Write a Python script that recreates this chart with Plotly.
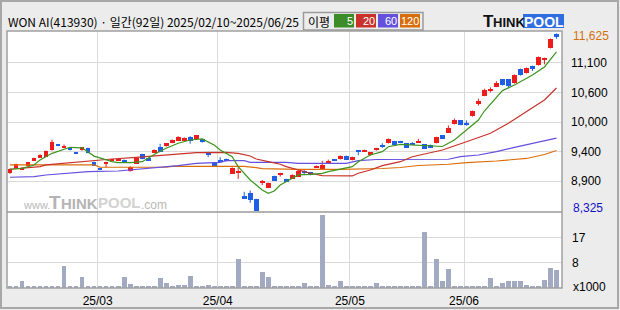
import plotly.graph_objects as go

# ---------------- data ----------------
opens = [9025,9120,9090,9160,9255,9320,9330,9445,9555,9505,
         9480,9405,9445,9490,9230,9115,9190,9255,9255,9270,
         9070,9200,9380,9300,9405,9510,9520,9585,9630,9630,
         9705,9665,9655,9395,9205,9275,9290,9015,9030,8595,
         8655,8540,8835,8750,8970,8995,8915,8920,8955,9055,
         9040,9130,9105,9220,9270,9280,9345,9265,9435,9430,
         9355,9445,9550,9580,9620,9620,9580,9590,9590,9560,
         9550,9580,9725,9775,9935,10005,9965,10080,10305,10460,
         10560,10630,10770,10770,10695,10965,10885,11020,11030,11125,
         11350,11605]
closes = [9095,9195,9125,9225,9305,9355,9440,9600,9530,9535,
          9470,9395,9505,9395,9160,9100,9230,9270,9265,9220,
          9145,9305,9285,9265,9460,9425,9575,9645,9705,9685,
          9630,9725,9595,9380,9150,9245,9245,9125,9045,8545,
          8520,8325,8875,8845,8885,9005,8865,8995,9055,9030,
          8985,9160,9175,9245,9255,9350,9270,9325,9420,9455,
          9410,9490,9520,9665,9545,9590,9495,9560,9625,9480,
          9500,9695,9665,9860,10015,9920,9930,10185,10365,10565,
          10575,10705,10660,10640,10855,10845,10985,10965,11190,11170,
          11515,11575]
highs = [9110,9200,9135,9230,9310,9375,9445,9645,9560,9555,
         9500,9410,9510,9495,9235,9120,9235,9275,9270,9275,
         9150,9310,9385,9305,9465,9570,9580,9650,9710,9690,
         9710,9730,9660,9420,9210,9320,9295,9130,9130,8675,
         8700,8545,8895,8850,8975,9030,8920,9000,9095,9080,
         9045,9165,9250,9275,9275,9355,9350,9330,9450,9460,
         9415,9495,9580,9670,9625,9625,9585,9600,9660,9565,
         9555,9700,9730,9910,10040,10010,10005,10190,10410,10595,
         10620,10735,10775,10775,10860,10970,10990,11025,11195,11175,
         11530,11625]
lows = [9010,9110,9080,9150,9250,9315,9325,9440,9525,9490,
        9445,9390,9440,9390,9155,9095,9130,9250,9250,9215,
        9050,9195,9280,9255,9400,9420,9515,9580,9625,9625,
        9570,9660,9590,9320,9145,9220,9240,9010,8915,8540,
        8470,8325,8800,8745,8880,8960,8860,8915,8950,9005,
        8980,9125,9080,9215,9250,9275,9265,9260,9355,9425,
        9350,9440,9495,9575,9540,9585,9490,9550,9585,9475,
        9495,9575,9660,9770,9930,9915,9905,10075,10280,10455,
        10525,10625,10655,10600,10690,10840,10880,10925,11025,11050,
        11345,11525]
volume_k = [0.8,0.5,2.5,0.8,0.8,0.8,0.8,0.8,0.5,7.5,
            0.8,0.5,3.8,0.8,0.4,0.4,0.4,0.4,0.4,3.8,
            1.5,0.4,0.4,0.4,0.8,3.5,1.8,0.4,1.1,1.1,
            4.1,0.4,0.4,1.1,0.8,0.4,0.8,0.8,9.8,0.8,
            0.4,0.4,5.5,3.8,0.8,0.8,0.4,0.4,0.4,1.8,
            0.4,0.4,24.6,1.1,0.4,2.2,0.4,0.4,0.4,0.4,
            0.4,1.6,0.4,0.8,0.4,0.4,0.4,0.4,0.8,18.7,
            0.4,9.6,2.2,6.3,0.8,0.4,0.4,0.4,0.4,0.8,
            3.5,0.8,1.6,2.5,2.2,2.2,1.1,0.4,0.8,2.8,
            6.8,6.1]

ma5_idx = [0,2,4,5,7,9,10,12,13,14,17,18,20,22,23,24,26,28,30,32,34,35,37,38,40,42,43,44,45,47,
           48,50,52,53,55,57,58,60,62,63,65,68,72,73,74,76,78,79,81,82,84,85,87,89,91]
ma5_val = [9095,9113,9175,9268,9392,9473,9504,9495,9420,9340,9236,9217,9217,9236,9299,9370,9486,9579,9640,9659,
           9547,9454,9329,9143,8895,8709,8648,8690,8800,8927,8989,9001,9020,9050,9095,9143,9236,9361,9422,9515,
           9560,9538,9519,9579,9640,9826,10013,10180,10440,10560,10664,10730,10850,11000,11280]
ma20_idx = [0,2,5,6,9,11,14,17,21,25,28,31,36,38,40,41,43,45,46,48,50,52,57,58,60,62,65,67,72,76,80,83,86,89,91]
ma20_val = [9095,9113,9143,9175,9206,9225,9268,9286,9318,9348,9374,9404,9411,9392,9342,9286,9236,9188,9143,9082,
            9020,8975,8970,9020,9082,9162,9236,9329,9454,9608,9765,9951,10167,10385,10608]
ma60_idx = [0,4,6,10,13,18,20,23,28,31,35,36,39,40,46,48,56,58,61,73,75,78,81,84,87,91]
ma60_val = [8946,8957,8988,9020,9050,9063,9081,9106,9162,9206,9225,9255,9255,9225,9225,9206,9206,9255,9277,9281,
            9329,9361,9422,9504,9579,9674]
ma120_idx = [0,14,15,26,27,39,41,42,48,55,62,65,68,73,76,81,86,89,91]
ma120_val = [9175,9175,9132,9132,9150,9147,9124,9106,9091,9091,9109,9128,9165,9188,9217,9249,9296,9370,9445]

month_labels = ['25/03', '25/04', '25/05', '25/06']
month_first_idx = [15, 35, 57, 76]
price_tick_labels = ['8,900', '9,400', '10,000', '10,600', '11,100']
vol_tick_labels = ['8', '17']
title_text = 'WON AI(413930) · 일간(92일) 2025/02/10~2025/06/25'
ma_names = ['5', '20', '60', '120']

# ---------------- styling ----------------
W, H = 620, 310
RED = '#ee1c1c'
BLUE = '#1e5fe6'
MA_COLORS = ['#3c961e', '#c83228', '#6450e0', '#dc6e0a']
LEGEND_COLORS = ['#3c8c28', '#c8322a', '#6450dc', '#d86e0a']
GRID = '#dadada'
BORDER = '#a0a0a0'
NUM_FONT = 'Liberation Sans'
KR_FONT = 'Noto Sans CJK KR'

def px(x):
    return x / W

def py(y):
    return 1 - y / H

n = len(opens)
idx = list(range(n))
pmax, pmin = max(highs), min(lows)
# gridlines divide [min, max] into six equal bands
price_ticks = [pmin + k * (pmax - pmin) / 6 for k in range(1, 6)]
vol_top = 25.5
vol_ticks = [vol_top / 3, 2 * vol_top / 3]

up = [c >= o for o, c in zip(opens, closes)]
min_body = 20
body_base, body_h = [], []
for o, c in zip(opens, closes):
    h = abs(c - o)
    if h < min_body:
        body_base.append(min(o, c) - (min_body - h) / 2)
        body_h.append(min_body)
    else:
        body_base.append(min(o, c))
        body_h.append(h)
body_colors = [RED if u else BLUE for u in up]

fig = go.Figure()

# wicks
for flag, col in ((True, RED), (False, BLUE)):
    wx, wy = [], []
    for i in idx:
        if up[i] == flag:
            wx += [i, i, None]
            wy += [lows[i], highs[i], None]
    fig.add_trace(go.Scatter(x=wx, y=wy, mode='lines', line=dict(color=col, width=1),
                             xaxis='x', yaxis='y', hoverinfo='skip', showlegend=False))

# bodies
fig.add_trace(go.Bar(x=idx, y=body_h, base=body_base, marker=dict(color=body_colors, line=dict(width=0)),
                     width=0.8, xaxis='x', yaxis='y', showlegend=False))

# moving averages
for (mi, mv), col in zip([(ma120_idx, ma120_val), (ma60_idx, ma60_val), (ma20_idx, ma20_val), (ma5_idx, ma5_val)],
                         MA_COLORS[::-1]):
    fig.add_trace(go.Scatter(x=mi, y=mv, mode='lines', line=dict(color=col, width=1.2),
                             xaxis='x', yaxis='y', hoverinfo='skip', showlegend=False))

# volume
fig.add_trace(go.Bar(x=idx, y=volume_k, marker=dict(color='#a2aac2', line=dict(width=0)), width=0.8,
                     xaxis='x2', yaxis='y2', showlegend=False))

x_domain = [px(7), px(562)]
x_range = [-0.5, 91.92]
grid_x = [m - 0.4 for m in month_first_idx]

fig.update_layout(
    width=W, height=H, margin=dict(l=0, r=0, t=0, b=0),
    paper_bgcolor='#ececec', plot_bgcolor='white',
    barmode='overlay', bargap=0, showlegend=False,
    xaxis=dict(domain=x_domain, range=x_range, anchor='y', tickvals=grid_x, showticklabels=False,
               showgrid=True, gridcolor=GRID, gridwidth=1, zeroline=False, showline=False, ticks=''),
    xaxis2=dict(domain=x_domain, range=x_range, anchor='y2', matches='x', tickvals=grid_x, ticktext=month_labels,
                showgrid=True, gridcolor=GRID, gridwidth=1, zeroline=False, showline=False, ticks='',
                tickfont=dict(family=NUM_FONT, size=12, color='black'), ticklabelstandoff=4),
    yaxis=dict(domain=[py(212), py(31)], range=[8299, 11670], side='right', anchor='x',
               tickvals=price_ticks, ticktext=price_tick_labels, showgrid=True, gridcolor=GRID,
               zeroline=False, showline=False, ticks='', ticklabelstandoff=8,
               tickfont=dict(family=NUM_FONT, size=12, color='black')),
    yaxis2=dict(domain=[py(288), py(212)], range=[0, vol_top], side='right', anchor='x2',
                tickvals=vol_ticks, ticktext=vol_tick_labels, showgrid=True, gridcolor=GRID,
                zeroline=False, showline=False, ticks='', ticklabelstandoff=9,
                tickfont=dict(family=NUM_FONT, size=12, color='black')),
)

shapes = [
    dict(type='rect', xref='paper', yref='paper', x0=px(1), x1=px(618), y0=py(308), y1=py(1),
         line=dict(color='#a8a8a8', width=2), layer='below'),
    dict(type='rect', xref='paper', yref='paper', x0=px(7), x1=px(562), y0=py(288), y1=py(31),
         line=dict(color=BORDER, width=1.5)),
    dict(type='line', xref='paper', yref='paper', x0=px(7), x1=px(562), y0=py(212), y1=py(212),
         line=dict(color='#9a9a9a', width=1.5)),
    dict(type='rect', xref='paper', yref='paper', x0=px(303.5), x1=px(423), y0=py(30), y1=py(12.5),
         line=dict(color='#9a9a9a', width=1.5)),
    dict(type='rect', xref='paper', yref='paper', x0=px(523), x1=px(564), y0=py(28), y1=py(14),
         fillcolor='#2f6ee0', line=dict(width=0)),
]
legend_x = [(334, 354), (356, 376), (378, 398), (400, 420)]
for (x0, x1), col in zip(legend_x, LEGEND_COLORS):
    shapes.append(dict(type='rect', xref='paper', yref='paper', x0=px(x0), x1=px(x1), y0=py(27.5), y1=py(14),
                       fillcolor=col, line=dict(width=0)))
fig.update_layout(shapes=shapes)

def note(text, x, y, size, color, family=NUM_FONT, xanchor='left'):
    return dict(text=text, x=px(x), y=py(y), xref='paper', yref='paper', xanchor=xanchor, yanchor='middle',
                showarrow=False, font=dict(family=family, size=size, color=color))

ann = [note(title_text, 6, 22, 12, 'black', KR_FONT),
       note('이평', 306, 21, 12, 'black', KR_FONT)]
for (x0, x1), name in zip(legend_x, ma_names):
    ann.append(note(name, x1 + 0.5, 21, 11, 'white', xanchor='right'))
# header logo
ann += [note('<b>T</b>', 481, 21.5, 17, '#111111'),
        note('<b>HINK</b>', 491, 22.5, 13, '#111111'),
        note('<b>POOL</b>', 543.5, 22, 14, 'white', xanchor='center')]
# watermark
ann += [note('www.', 21, 205, 11, '#b8b8b8'),
        note('<b>T</b>', 47, 202.5, 19, '#b4b4b4'),
        note('<b>HINK</b>', 59, 203.5, 15, '#b4b4b4'),
        note('<b>POOL</b>', 96, 202.5, 15, '#d2d2d2'),
        note('.com', 139, 205, 12, '#b8b8b8')]
# max / min labels and unit
ann.append(dict(text=f'{pmax:,}', x=px(571), y=pmax, xref='paper', yref='y', xanchor='left', yanchor='middle',
                yshift=-3, showarrow=False, font=dict(family=NUM_FONT, size=12, color='#d2700f')))
ann.append(dict(text=f'{pmin:,}', x=px(571), y=pmin, xref='paper', yref='y', xanchor='left', yanchor='middle',
                yshift=3, showarrow=False, font=dict(family=NUM_FONT, size=12, color='#1212c8')))
ann.append(dict(text='x1000', x=px(571), y=0, xref='paper', yref='y2', xanchor='left', yanchor='middle',
                yshift=1, showarrow=False, font=dict(family=NUM_FONT, size=12, color='black')))
fig.update_layout(annotations=ann)

fig.write_html('out.html')
